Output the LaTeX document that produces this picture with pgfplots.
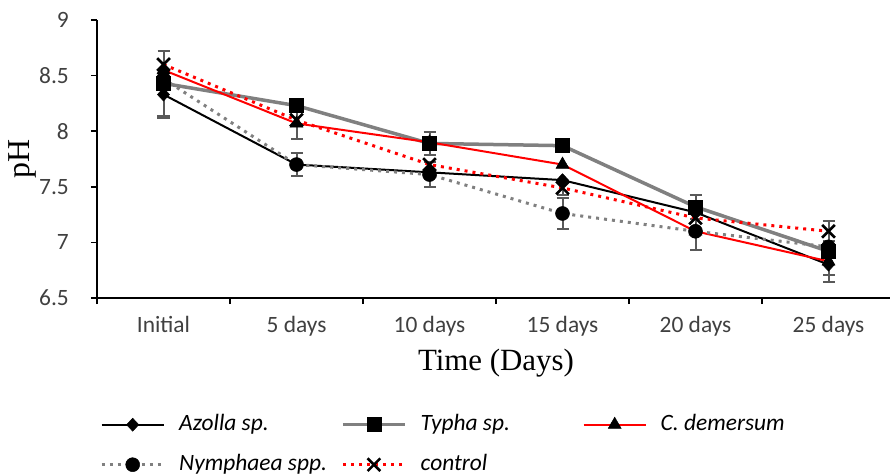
\documentclass[border=0pt]{standalone}
\usepackage{pgfplots}
\pgfplotsset{compat=1.18}
\usepackage{fontspec}
\setmainfont{Carlito}
\newfontfamily\seriffont{Liberation Serif}
\definecolor{tickgray}{HTML}{404040}
\definecolor{linegray}{HTML}{808080}
\definecolor{errgray}{HTML}{595959}

\pgfplotsset{
  errbar/.style={
    draw=none, mark=none, forget plot,
    error bars/.cd, y dir=both, y explicit,
    error bar style={line width=2bp, errgray},
    error mark options={rotate=90, mark size=6bp, line width=2bp, errgray},
  },
  legline/.style={
    legend image code/.code={%
      \draw[mark repeat=2, mark phase=2] plot coordinates {(0bp,0bp) (31bp,0bp) (62bp,0bp)};}
  },
}

\begin{document}
\begin{tikzpicture}
\useasboundingbox (0bp,0bp) rectangle (890bp,475bp);
\begin{axis}[
  at={(97bp,177bp)}, anchor=south west,
  scale only axis, width=798bp, height=278bp,
  xmin=-0.5, xmax=5.5, ymin=6.5, ymax=9,
  axis x line*=bottom, axis y line*=left,
  axis line style={-, line width=1.6bp, black},
  xtick={-0.5,0.5,...,5.5},
  x tick label as interval,
  xticklabels={Initial,5 days,10 days,15 days,20 days,25 days},
  ytick={6.5,7,7.5,8,8.5,9},
  tick align=outside,
  major tick length=6bp,
  tick style={line width=1.5bp, black},
  /pgf/number format/assume math mode=true,
  ticklabel style={font=\fontsize{23.5}{28}\selectfont, text=tickgray},
  xticklabel style={anchor=base, yshift=-28bp},
  yticklabel style={anchor=east, inner sep=0pt, xshift=-22bp},
  xlabel={Time (Days)},
  ylabel={pH},
  xlabel style={at={(axis description cs:0.5,-0.234)}, anchor=center,
    font=\seriffont\fontsize{31}{36}\selectfont},
  ylabel style={at={(axis description cs:-0.094,0.5)}, anchor=center,
    font=\seriffont\fontsize{32}{36}\selectfont},
  legend style={draw=none, fill=none, at={(0,0)}, anchor=north west,
    xshift=3bp, yshift=-115bp, inner sep=0pt, row sep=17bp,
    font=\fontsize{23.5}{28}\selectfont\itshape,
    nodes={inner sep=0pt, text height=17bp, text depth=6bp}},
  legend columns=3,
  legend cell align=left,
  /tikz/every odd column/.append style={column sep=14bp},
]

% error bars, drawn underneath the series
\addplot[errbar] coordinates {(0,8.33) +- (0,0.21) (5,6.80) +- (0,0.16)};
\addplot[errbar] coordinates {(0,8.43) +- (0,0.29) (2,7.89) +- (0,0.10) (4,7.32) +- (0,0.11)};
\addplot[errbar] coordinates {(1,8.07) +- (0,0.14) (5,6.83) +- (0,0.12)};
\addplot[errbar] coordinates {(1,7.70) +- (0,0.10) (2,7.61) +- (0,0.11) (3,7.26) +- (0,0.14) (4,7.10) +- (0,0.17)};
\addplot[errbar] coordinates {(3,7.49) +- (0,0.06) (5,7.10) +- (0,0.09)};

% Azolla sp.
\addplot[legline, black, line width=2bp, mark=diamond*, mark size=6.5bp,
  mark options={solid, fill=black, draw=black, line width=0.5bp, xscale=1.25}]
  coordinates {(0,8.33) (1,7.70) (2,7.63) (3,7.56) (4,7.27) (5,6.80)};
\addlegendentry{\makebox[162bp][l]{Azolla sp.}}

% Typha sp.
\addplot[legline, linegray, line width=3.5bp, mark=square*, mark size=7bp,
  mark options={solid, fill=black, draw=black, line width=0.5bp}]
  coordinates {(0,8.43) (1,8.23) (2,7.89) (3,7.87) (4,7.32) (5,6.92)};
\addlegendentry{\makebox[162bp][l]{Typha sp.}}

% C. demersum
\addplot[legline, red, line width=2bp, mark=triangle*, mark size=7.5bp,
  mark options={solid, fill=black, draw=black, line width=0.5bp}]
  coordinates {(0,8.55) (1,8.07) (2,7.90) (3,7.70) (4,7.10) (5,6.83)};
\addlegendentry{\makebox[162bp][l]{C. demersum}}

% Nymphaea spp.
\addplot[legline, linegray, line width=3bp, dash pattern=on 3bp off 5bp,
  mark=*, mark size=7bp,
  mark options={solid, fill=black, draw=black, line width=0.5bp}]
  coordinates {(0,8.47) (1,7.70) (2,7.61) (3,7.26) (4,7.10) (5,6.96)};
\addlegendentry{\makebox[162bp][l]{Nymphaea spp.}}

% control
\addplot[legline, red, line width=3bp, dash pattern=on 3bp off 5bp,
  mark=x, mark size=9bp,
  mark options={solid, draw=black, line width=2.6bp}]
  coordinates {(0,8.60) (1,8.10) (2,7.70) (3,7.49) (4,7.22) (5,7.10)};
\addlegendentry{\makebox[162bp][l]{control}}

\end{axis}
\end{tikzpicture}
\end{document}
